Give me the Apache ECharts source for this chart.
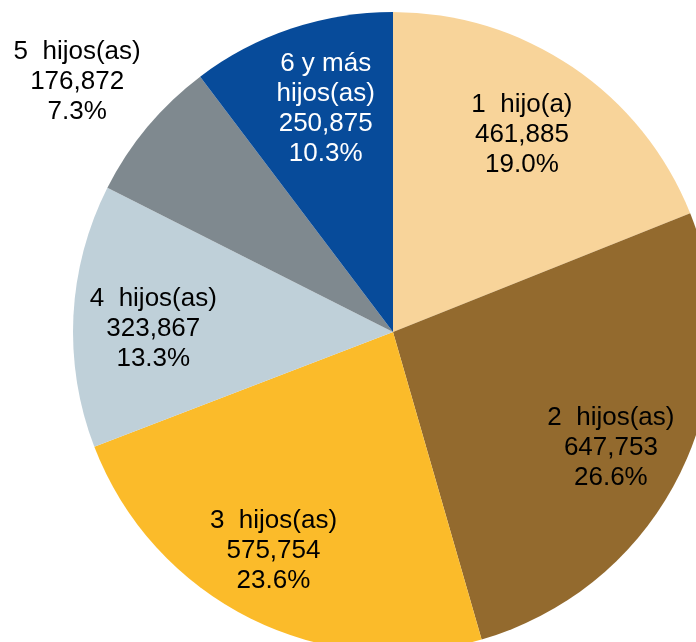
<!DOCTYPE html>
<html>
<head>
<meta charset="utf-8">
<script src="https://cdn.jsdelivr.net/npm/echarts@6/dist/echarts.min.js"></script>
<style>
html, body { margin: 0; padding: 0; background: #fff; }
#chart { width: 696px; height: 642px; }
</style>
</head>
<body>
<div id="chart"></div>
<script>
var categories = ['1  hijo(a)', '2  hijos(as)', '3  hijos(as)', '4  hijos(as)', '5  hijos(as)', '6 y más\nhijos(as)'];
var values = [461885, 647753, 575754, 323867, 176872, 250875];
var percents = ['19.0%', '26.6%', '23.6%', '13.3%', '7.3%', '10.3%'];
var colors = ['#F8D49A', '#936A2E', '#FBBB2A', '#BFD0D9', '#7F898F', '#074B9A'];

function fmt(n) {
	return n.toString().replace(/\B(?=(\d{3})+(?!\d))/g, ',');
}

// fine tuning of where each label sits (the 5th one is outside the pie)
var nudge = [[-4, -1], [5, 12], [-14, 7], [-3, 9], [-134, -98], [8, 2]];

var pieData = [];
var labelData = [];
for (var i = 0; i < values.length; i++) {
	pieData.push({ name : categories[i], value : values[i], itemStyle : { color : colors[i] } });
	labelData.push({
		name : categories[i],
		value : values[i],
		label : {
			formatter : categories[i] + '\n' + fmt(values[i]) + '\n' + percents[i],
			color : i == 5 ? '#fff' : '#000',
			offset : nudge[i]
		}
	});
}

var myChart = echarts.init(document.getElementById('chart'));
var option = {
	animation : false,
	series : [
		{
			name : 'hijos',
			type : 'pie',
			center : [393, 332],
			radius : [0, 320],
			startAngle : 90,
			clockwise : true,
			silent : true,
			label : { show : false },
			labelLine : { show : false },
			itemStyle : { borderWidth : 0 },
			data : pieData
		},
		{
			name : 'etiquetas',
			type : 'pie',
			center : [393, 332],
			radius : [0, 468],
			startAngle : 90,
			clockwise : true,
			silent : true,
			itemStyle : { color : 'rgba(0,0,0,0)', borderWidth : 0 },
			label : {
				show : true,
				position : 'inside',
				fontFamily : 'Liberation Sans, Arial, sans-serif',
				fontSize : 26,
				lineHeight : 30,
				align : 'center'
			},
			labelLine : { show : false },
			data : labelData
		}
	]
};
myChart.setOption(option);
</script>
</body>
</html>
